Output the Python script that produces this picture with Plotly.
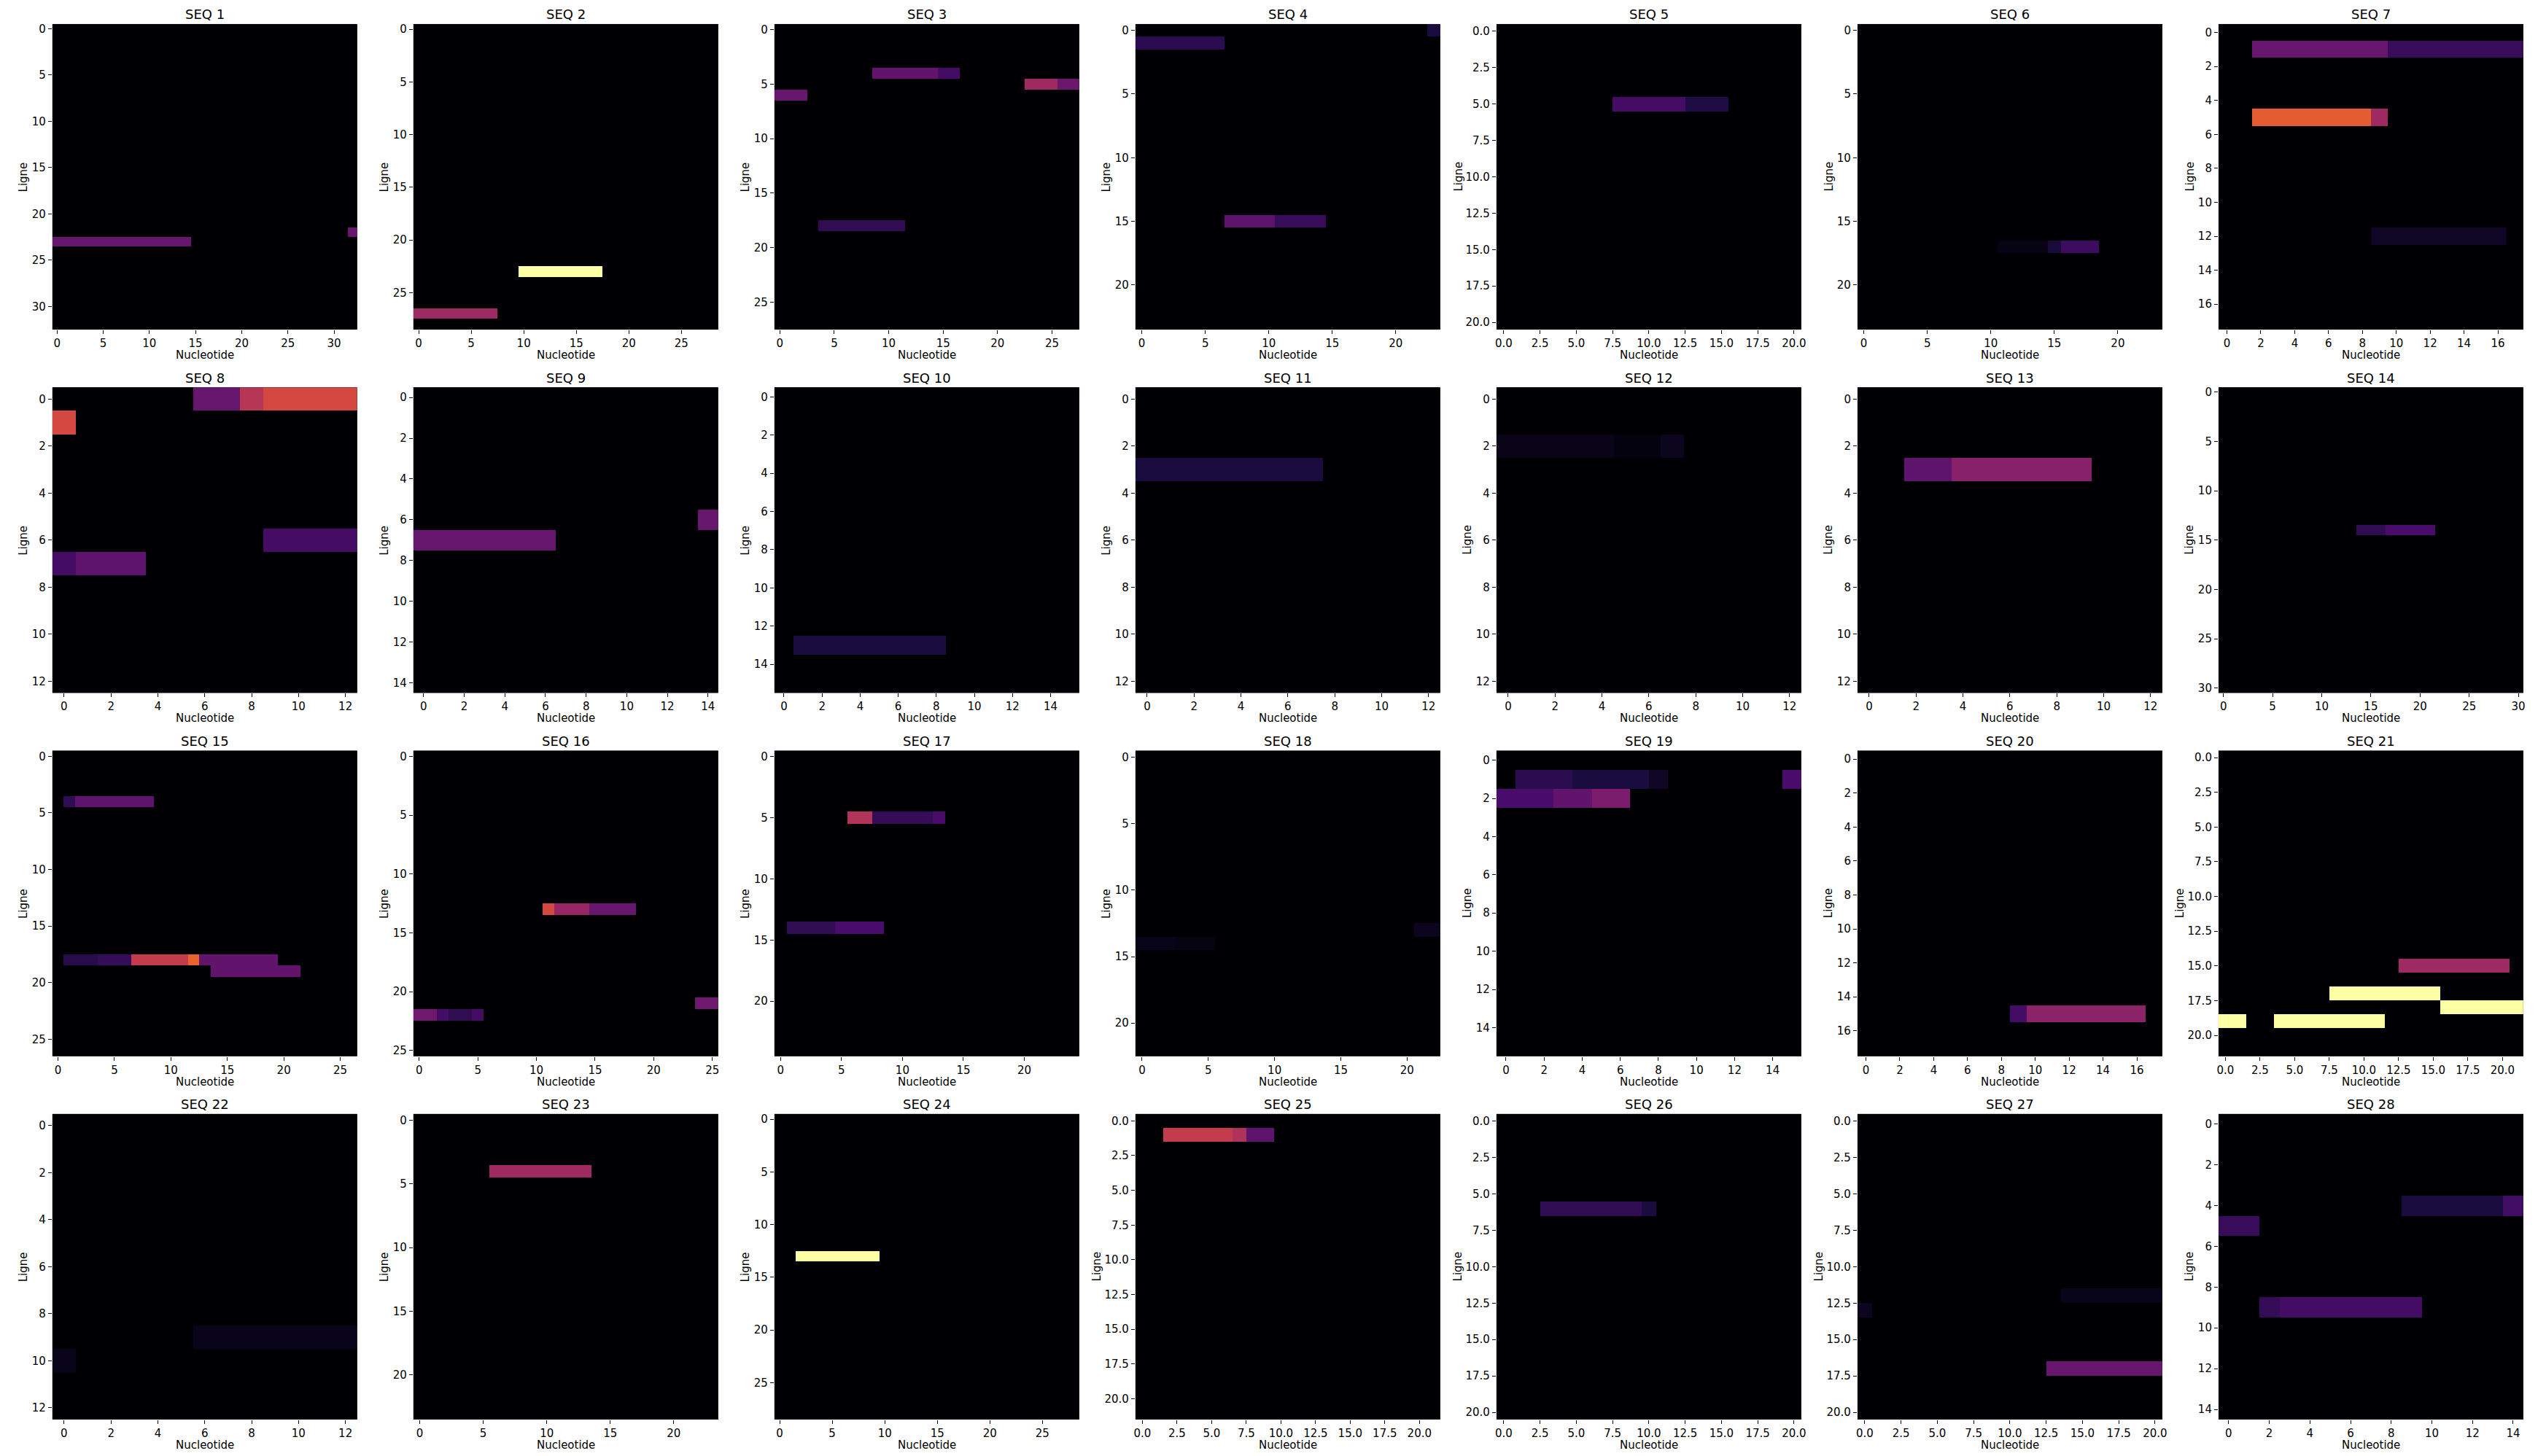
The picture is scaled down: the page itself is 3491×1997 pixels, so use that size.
import numpy as np
import plotly.graph_objects as go

# ---------------- data ----------------
SEQ_NAMES = [f"SEQ {i}" for i in range(1, 29)]
SIZES = [33, 29, 28, 24, 21, 24, 18,
         13, 15, 16, 13, 13, 13, 31,
         27, 26, 25, 23, 16, 18, 22,
         13, 24, 29, 22, 21, 21, 15]
TICK_STEP = [5, 5, 5, 5, 2.5, 5, 2,
             2, 2, 2, 2, 2, 2, 5,
             5, 5, 5, 5, 2, 2, 2.5,
             2, 5, 5, 2.5, 2.5, 2.5, 2]
# segments per sequence: (row, first column, last column, value)
SEGMENTS = [
    [(23, 0, 14, 0.29), (22, 32, 32, 0.29)],
    [(23, 10, 17, 1.0), (27, 0, 7, 0.43)],
    [(4, 9, 14, 0.28), (4, 15, 16, 0.21), (5, 23, 25, 0.43), (5, 26, 27, 0.30),
     (6, 0, 2, 0.29), (18, 4, 11, 0.16)],
    [(0, 23, 23, 0.11), (1, 0, 6, 0.15), (15, 7, 10, 0.27), (15, 11, 14, 0.18)],
    [(5, 8, 12, 0.21), (5, 13, 15, 0.12)],
    [(17, 11, 14, 0.03), (17, 15, 15, 0.10), (17, 16, 18, 0.19)],
    [(1, 2, 9, 0.29), (1, 10, 17, 0.18), (5, 2, 8, 0.63), (5, 9, 9, 0.43),
     (12, 9, 16, 0.06)],
    [(0, 6, 7, 0.29), (0, 8, 8, 0.49), (0, 9, 12, 0.57), (1, 0, 0, 0.57),
     (6, 9, 12, 0.21), (7, 0, 0, 0.21), (7, 1, 3, 0.27)],
    [(6, 14, 14, 0.29), (7, 0, 6, 0.29)],
    [(13, 1, 8, 0.11)],
    [(3, 0, 7, 0.11)],
    [(2, 0, 4, 0.035), (2, 5, 6, 0.02), (2, 7, 7, 0.045)],
    [(3, 2, 3, 0.27), (3, 4, 9, 0.37)],
    [(14, 14, 16, 0.16), (14, 17, 21, 0.22)],
    [(4, 1, 1, 0.16), (4, 2, 8, 0.27), (18, 1, 3, 0.14), (18, 4, 6, 0.17),
     (18, 7, 11, 0.52), (18, 12, 12, 0.65), (18, 13, 19, 0.28), (19, 14, 21, 0.28)],
    [(13, 11, 11, 0.57), (13, 12, 14, 0.41), (13, 15, 18, 0.29), (21, 24, 25, 0.31),
     (22, 0, 1, 0.31), (22, 2, 2, 0.21), (22, 3, 4, 0.16), (22, 5, 5, 0.21)],
    [(5, 6, 7, 0.48), (5, 8, 12, 0.17), (5, 13, 13, 0.22), (14, 1, 4, 0.16),
     (14, 5, 8, 0.22)],
    [(13, 21, 22, 0.045), (14, 0, 2, 0.04), (14, 3, 5, 0.025)],
    [(1, 1, 3, 0.15), (1, 4, 7, 0.11), (1, 8, 8, 0.06), (1, 15, 15, 0.22),
     (2, 0, 2, 0.22), (2, 3, 4, 0.28), (2, 5, 6, 0.34)],
    [(15, 9, 9, 0.21), (15, 10, 16, 0.38)],
    [(15, 13, 20, 0.43), (17, 8, 15, 1.0), (18, 16, 21, 1.0), (19, 0, 1, 1.0),
     (19, 4, 11, 1.0)],
    [(9, 6, 12, 0.04), (10, 0, 0, 0.04)],
    [(4, 6, 13, 0.43)],
    [(13, 2, 9, 1.0)],
    [(1, 2, 6, 0.52), (1, 7, 7, 0.47), (1, 8, 9, 0.27)],
    [(6, 3, 9, 0.16), (6, 10, 10, 0.11)],
    [(12, 14, 20, 0.04), (13, 0, 0, 0.05), (17, 13, 20, 0.29)],
    [(4, 9, 13, 0.11), (4, 14, 14, 0.20), (5, 0, 1, 0.18), (9, 2, 2, 0.17),
     (9, 3, 9, 0.21)],
]
X_LABEL = "Nucleotide"
Y_LABEL = "Ligne"

# ---------------- layout ----------------
W, H = 3491, 1997
NCOLS = 7
COL_LEFT0, COL_STEP, AX_W = 70, 496.3, 419
ROW_TOP0, ROW_STEP, AX_H = 31, 499.3, 420
FONT = "DejaVu Sans"

fig = go.Figure()
annotations = []
layout = dict(
    width=W, height=H, autosize=False,
    margin=dict(l=0, r=0, t=0, b=0),
    paper_bgcolor="white", plot_bgcolor="black",
    showlegend=False,
    font=dict(family=FONT, size=15, color="black"),
)


def fmt(v, step):
    return f"{v:.1f}" if step != int(step) else str(int(v))


for i, (name, n, step, segs) in enumerate(zip(SEQ_NAMES, SIZES, TICK_STEP, SEGMENTS)):
    r, c = divmod(i, NCOLS)
    z = np.zeros((n, n))
    for row, c0, c1, val in segs:
        z[row, c0:c1 + 1] = val
    k = i + 1
    xa = "x" if k == 1 else f"x{k}"
    ya = "y" if k == 1 else f"y{k}"
    fig.add_trace(go.Heatmap(
        z=z, x=list(range(n)), y=list(range(n)),
        colorscale="Inferno", zmin=0, zmax=1, showscale=False,
        xaxis=xa, yaxis=ya, hoverinfo="skip",
    ))
    left = COL_LEFT0 + c * COL_STEP
    top = ROW_TOP0 + r * ROW_STEP
    x0, x1 = left / W, (left + AX_W) / W
    y1, y0 = 1 - top / H, 1 - (top + AX_H) / H
    ticks = list(np.arange(0, n - 0.5 + 1e-9, step))
    ticktext = [fmt(t, step) for t in ticks]
    axcommon = dict(showgrid=False, zeroline=False, showline=False,
                    ticks="outside", ticklen=5, tickwidth=1, tickcolor="black",
                    tickvals=ticks, ticktext=ticktext,
                    tickfont=dict(family=FONT, size=15, color="black"))
    layout["xaxis" if k == 1 else f"xaxis{k}"] = dict(
        domain=[x0, x1], anchor=ya, range=[-0.5, n - 0.5], **axcommon)
    layout["yaxis" if k == 1 else f"yaxis{k}"] = dict(
        domain=[y0, y1], anchor=xa, range=[n - 0.5, -0.5], **axcommon)
    cx = (left + AX_W / 2) / W
    ylab_off = 40 if step == int(step) else 53
    annotations.append(dict(text=name, x=cx, y=1 - (top - 13) / H, xref="paper", yref="paper",
                            xanchor="center", yanchor="middle", showarrow=False,
                            font=dict(family=FONT, size=18, color="black")))
    annotations.append(dict(text=X_LABEL, x=cx, y=1 - (top + AX_H + 35) / H, xref="paper", yref="paper",
                            xanchor="center", yanchor="middle", showarrow=False,
                            font=dict(family=FONT, size=15, color="black")))
    annotations.append(dict(text=Y_LABEL, x=(left - ylab_off) / W, y=1 - (top + AX_H / 2) / H,
                            xref="paper", yref="paper", textangle=-90,
                            xanchor="center", yanchor="middle", showarrow=False,
                            font=dict(family=FONT, size=15, color="black")))

layout["annotations"] = annotations
fig.update_layout(**layout)
fig.write_html("out.html")
